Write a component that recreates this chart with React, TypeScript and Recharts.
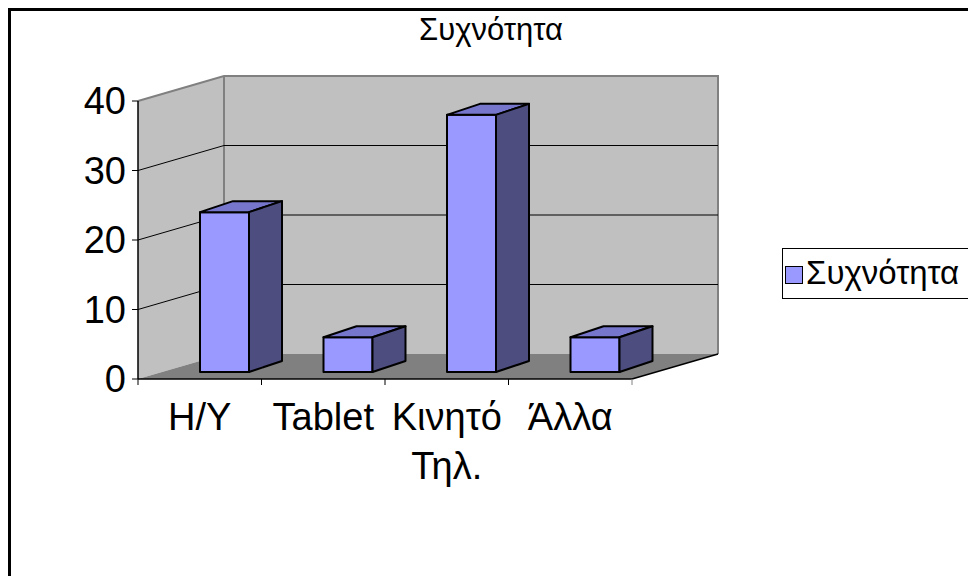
import { Bar, BarChart, Legend, ReferenceArea, ReferenceLine, XAxis, YAxis } from 'recharts'

const CATEGORIES = ['Η/Υ', 'Tablet', 'Κινητό Τηλ.', 'Άλλα']
const VALUES = [23, 5, 37, 5]
const Y_TICKS = [0, 10, 20, 30, 40]
const GRID_VALUES = [10, 20, 30]
const SERIES_NAME = 'Συχνότητα'
const TITLE = 'Συχνότητα'

const FONT = '"Liberation Sans", Arial, sans-serif'

// 3d look: how far the back wall sits, where the bars stand, how deep they are
const WALL = { dx: 86, dy: -25 }
const BAR_POS = { dx: 25, dy: -7 }
const BAR_DEPTH = { dx: 33, dy: -11 }

const COLORS = {
  front: '#9999ff',
  top: '#7676cc',
  side: '#4d4d80',
  wall: '#c0c0c0',
  floor: '#808080',
  edge: '#808080',
}

const data = CATEGORIES.map((name, i) => ({ name, value: VALUES[i] }))

function Walls(props: any) {
  const { x, y, width, height } = props
  const b = y + height
  const pts = (arr: number[][]) => arr.map((p) => p.join(',')).join(' ')
  return (
    <g>
      <polygon
        points={pts([
          [x, y],
          [x + WALL.dx, y + WALL.dy],
          [x + WALL.dx, b + WALL.dy],
          [x, b],
        ])}
        fill={COLORS.wall}
      />
      <rect x={x + WALL.dx} y={y + WALL.dy} width={width} height={height} fill={COLORS.wall} />
      <polygon
        points={pts([
          [x, b],
          [x + width, b],
          [x + width + WALL.dx, b + WALL.dy],
          [x + WALL.dx, b + WALL.dy],
        ])}
        fill={COLORS.floor}
      />
      <polyline
        points={pts([
          [x, y],
          [x + WALL.dx, y + WALL.dy],
          [x + WALL.dx + width, y + WALL.dy],
          [x + WALL.dx + width, b + WALL.dy],
        ])}
        fill="none"
        stroke={COLORS.edge}
        strokeWidth={2}
      />
      <line
        x1={x + WALL.dx}
        y1={y + WALL.dy}
        x2={x + WALL.dx}
        y2={b + WALL.dy}
        stroke={COLORS.edge}
        strokeWidth={2}
      />
      <line
        x1={x + width}
        y1={b}
        x2={x + width + WALL.dx}
        y2={b + WALL.dy}
        stroke="#000"
        strokeWidth={1.5}
      />
    </g>
  )
}

function GridLine(props: any) {
  const { x1, y1, x2 } = props
  return (
    <polyline
      points={`${x1},${y1} ${x1 + WALL.dx},${y1 + WALL.dy} ${x2 + WALL.dx},${y1 + WALL.dy}`}
      fill="none"
      stroke="#000"
      strokeWidth={1}
    />
  )
}

function Bar3D(props: any) {
  const { x, y, width, height } = props
  const fx = x + BAR_POS.dx
  const fy = y + BAR_POS.dy
  const { dx, dy } = BAR_DEPTH
  const r = fx + width
  const b = fy + height
  return (
    <g stroke="#000" strokeWidth={2} strokeLinejoin="round">
      <rect x={fx} y={fy} width={width} height={height} fill={COLORS.front} />
      <polygon
        points={`${fx},${fy} ${fx + dx},${fy + dy} ${r + dx},${fy + dy} ${r},${fy}`}
        fill={COLORS.top}
      />
      <polygon
        points={`${r},${fy} ${r + dx},${fy + dy} ${r + dx},${b + dy} ${r},${b}`}
        fill={COLORS.side}
      />
    </g>
  )
}

function YTick(props: any) {
  const { x, y, payload } = props
  return (
    <text
      x={x - 4}
      y={y}
      dy="0.355em"
      textAnchor="end"
      fontSize={38}
      fontFamily={FONT}
      fill="#000"
    >
      {payload.value}
    </text>
  )
}

function XTick(props: any) {
  const { x, y, payload, index, visibleTicksCount, width } = props
  const half = payload.offset || width / visibleTicksCount / 2
  const axisY = y - 8
  const lines = String(payload.value).split(' ')
  return (
    <g>
      <line x1={x - half} y1={axisY} x2={x - half} y2={axisY + 6} stroke="#000" />
      {index === visibleTicksCount - 1 && (
        <line x1={x + half} y1={axisY} x2={x + half} y2={axisY + 6} stroke="#808080" />
      )}
      <text x={x} y={y + 43} textAnchor="middle" fontSize={38} fontFamily={FONT} fill="#000">
        {lines.map((line, i) => (
          <tspan key={line} x={x} dy={i === 0 ? 0 : 49}>
            {line}
          </tspan>
        ))}
      </text>
    </g>
  )
}

function LegendBox(props: any) {
  const item = props.payload?.[0]
  return (
    <svg width={220} height={52}>
      <rect x={0.5} y={0.5} width={240} height={50} fill="#fff" stroke="#000" />
      <rect x={3.5} y={18.5} width={17} height={17} fill={COLORS.front} stroke="#000" />
      <text x={24} y={36} fontSize={33} fontFamily={FONT} fill="#000">
        {item?.value ?? SERIES_NAME}
      </text>
    </svg>
  )
}

export default function App() {
  return (
    <div
      style={{
        position: 'fixed',
        left: 8,
        top: 8,
        width: 1000,
        height: 620,
        border: '3px solid #000',
        background: '#fff',
        overflow: 'hidden',
      }}
    >
      <div
        style={{
          position: 'absolute',
          left: 0,
          top: 3,
          width: 960,
          textAlign: 'center',
          fontFamily: FONT,
          fontSize: 31,
          lineHeight: '32px',
          color: '#000',
        }}
      >
        {TITLE}
      </div>
      <BarChart
        width={960}
        height={570}
        data={data}
        margin={{ top: 90, right: 339, bottom: 142, left: 67 }}
      >
        <ReferenceArea y1={0} y2={40} ifOverflow="visible" shape={Walls} zIndex={-90} />
        {GRID_VALUES.map((v) => (
          <ReferenceLine key={v} y={v} ifOverflow="visible" shape={GridLine} zIndex={-80} />
        ))}
        <XAxis
          dataKey="name"
          height={60}
          interval={0}
          tickLine={false}
          axisLine={{ stroke: '#000', strokeWidth: 1.5 }}
          tick={XTick}
        />
        <YAxis
          width={60}
          domain={[0, 40]}
          ticks={Y_TICKS}
          tickSize={6}
          axisLine={{ stroke: '#000', strokeWidth: 1.5 }}
          tickLine={{ stroke: '#000' }}
          tick={YTick}
        />
        <Legend
          layout="vertical"
          align="center"
          verticalAlign="middle"
          content={LegendBox}
          wrapperStyle={{ position: 'absolute', left: 771, top: 237, width: 220, height: 52 }}
        />
        <Bar
          dataKey="value"
          name={SERIES_NAME}
          fill={COLORS.front}
          barSize={49}
          shape={Bar3D}
          isAnimationActive={false}
        />
      </BarChart>
    </div>
  )
}
